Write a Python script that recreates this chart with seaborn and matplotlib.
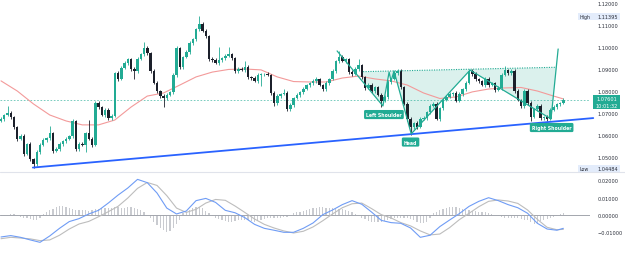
import numpy as np
import pandas as pd
import matplotlib
matplotlib.use("Agg")
import matplotlib.pyplot as plt
import matplotlib.transforms as mtransforms
from matplotlib.patches import Rectangle, Polygon
from matplotlib.lines import Line2D
from matplotlib.ticker import FuncFormatter
import seaborn as sns

# ---------------- data ----------------
first_open = 1.0664
closes = [
    1.0673, 1.0691, 1.0700, 1.0682, 1.0636, 1.0582, 1.0595, 1.0514, 1.0559, 1.0491,
    1.0468, 1.0523, 1.0555, 1.0577, 1.0586, 1.0609, 1.0527, 1.0536, 1.0559, 1.0573,
    1.0582, 1.0595, 1.0664, 1.0536, 1.0559, 1.0555, 1.0609, 1.0582, 1.0555, 1.0745,
    1.0727, 1.0691, 1.0714, 1.0677, 1.0686, 1.0882, 1.0855, 1.0905, 1.0927, 1.0945,
    1.0900, 1.0891, 1.0945, 1.0968, 1.0995, 1.0973, 1.0891, 1.0836, 1.0800, 1.0777,
    1.0768, 1.0782, 1.0795, 1.0873, 1.0995, 1.0909, 1.0955, 1.0977, 1.1018, 1.1036,
    1.1082, 1.1105, 1.1073, 1.1050, 1.0945, 1.0941, 1.0927, 1.0941, 1.0950, 1.0959,
    1.0968, 1.0950, 1.0891, 1.0900, 1.0895, 1.0909, 1.0864, 1.0859, 1.0845, 1.0873,
    1.0877, 1.0877, 1.0873, 1.0791, 1.0745, 1.0777, 1.0786, 1.0791, 1.0718, 1.0736,
    1.0768, 1.0782, 1.0795, 1.0809, 1.0827, 1.0836, 1.0845, 1.0855, 1.0827, 1.0809,
    1.0836, 1.0855, 1.0891, 1.0936, 1.0955, 1.0936, 1.0945, 1.0886, 1.0877, 1.0900,
    1.0918, 1.0864, 1.0814, 1.0827, 1.0800, 1.0818, 1.0782, 1.0755, 1.0773, 1.0841,
    1.0855, 1.0882, 1.0891, 1.0818, 1.0741, 1.0673, 1.0636, 1.0655, 1.0636, 1.0673,
    1.0677, 1.0705, 1.0732, 1.0741, 1.0673, 1.0723, 1.0759, 1.0773, 1.0786, 1.0791,
    1.0755, 1.0786, 1.0809, 1.0836, 1.0891, 1.0877, 1.0855, 1.0845, 1.0827, 1.0855,
    1.0827, 1.0836, 1.0805, 1.0814, 1.0873, 1.0895, 1.0882, 1.0891, 1.0800, 1.0759,
    1.0732, 1.0800, 1.0745, 1.0682, 1.0718, 1.0732, 1.0677, 1.0682, 1.0673, 1.0714,
    1.0727, 1.0741, 1.0745, 1.07601,
]
upper_wick_pips = [
    8, 6, 32, 7, 5, 6, 9, 8, 6, 7,
    5, 8, 7, 9, 6, 32, 6, 8, 7, 6,
    9, 7, 9, 6, 8, 7, 6, 59, 7, 10,
    8, 6, 9, 7, 8, 5, 7, 9, 8, 6,
    7, 8, 9, 6, 27, 8, 6, 7, 9, 6,
    8, 7, 6, 9, 8, 7, 6, 8, 9, 7,
    6, 35, 8, 7, 6, 9, 7, 59, 6, 8,
    32, 7, 6, 9, 8, 27, 7, 6, 8, 9,
    6, 7, 8, 6, 7, 9, 6, 18, 7, 8,
    6, 9, 7, 8, 6, 7, 9, 8, 6, 7,
    8, 6, 9, 7, 27, 8, 7, 6, 9, 8,
    27, 7, 6, 8, 9, 7, 6, 8, 7, 9,
    6, 8, 7, 9, 6, 7, 8, 6, 9, 7,
    8, 6, 7, 9, 8, 6, 7, 8, 9, 6,
    7, 8, 6, 9, 9, 7, 8, 6, 7, 9,
    8, 6, 7, 9, 8, 18, 6, 7, 8, 9,
    6, 7, 8, 9, 6, 7, 8, 6, 9, 7,
    8, 6, 7, 6,
]
lower_wick_pips = [
    7, 8, 6, 9, 7, 8, 6, 9, 7, 8,
    20, 7, 8, 6, 9, 7, 8, 6, 7, 9,
    8, 6, 7, 9, 8, 7, 32, 6, 8, 7,
    9, 6, 8, 7, 9, 6, 8, 7, 6, 9,
    7, 36, 8, 6, 7, 9, 8, 6, 7, 8,
    41, 7, 6, 8, 9, 7, 8, 6, 7, 9,
    8, 7, 6, 9, 7, 8, 6, 7, 9, 8,
    6, 7, 9, 8, 6, 7, 8, 9, 6, 7,
    50, 8, 6, 7, 14, 8, 9, 6, 7, 8,
    9, 6, 7, 8, 6, 9, 7, 8, 6, 7,
    8, 9, 6, 7, 8, 6, 9, 7, 8, 6,
    7, 8, 9, 6, 7, 8, 6, 27, 7, 8,
    9, 6, 7, 8, 6, 9, 35, 7, 8, 6,
    7, 9, 8, 6, 7, 8, 9, 6, 7, 8,
    6, 7, 9, 8, 6, 7, 8, 9, 6, 7,
    8, 6, 9, 7, 8, 6, 7, 9, 8, 6,
    7, 8, 9, 18, 6, 7, 8, 9, 9, 7,
    6, 8, 7, 6,
]

ma_bar = list(range(0, 171, 5)) + [173]
ma_values = [
    1.0846, 1.0800, 1.0741, 1.0691, 1.0664, 1.0646, 1.0646, 1.0668, 1.0727, 1.0777,
    1.0791, 1.0827, 1.0864, 1.0886, 1.0898, 1.0900, 1.0896, 1.0864, 1.0843, 1.0841,
    1.0841, 1.0859, 1.0868, 1.0855, 1.0846, 1.0827, 1.0791, 1.0766, 1.0773, 1.0796,
    1.0809, 1.0814, 1.0816, 1.0800, 1.0777, 1.0764,
]

macd_bar = list(range(0, 172, 3)) + [173]
macd_line = [
    -0.0127, -0.0119, -0.0129, -0.0144, -0.0158, -0.0121, -0.0077, -0.0038, -0.0021, 0.0006,
    0.0027, 0.0069, 0.0115, 0.0156, 0.0206, 0.0187, 0.0127, 0.0040, 0.0006, 0.0023,
    0.0083, 0.0096, 0.0073, 0.0027, 0.0013, -0.0015, -0.0054, -0.0077, -0.0088, -0.0100,
    -0.0100, -0.0077, -0.0046, 0.0002, 0.0029, 0.0060, 0.0083, 0.0062, 0.0017, -0.0031,
    -0.0044, -0.0048, -0.0075, -0.0129, -0.0117, -0.0067, -0.0029, 0.0008, 0.0050, 0.0079,
    0.0100, 0.0083, 0.0060, 0.0042, 0.0010, -0.0048, -0.0081, -0.0088, -0.0077,
]
signal_line = [
    -0.0137, -0.0129, -0.0133, -0.0138, -0.0148, -0.0144, -0.0117, -0.0081, -0.0052, -0.0037,
    -0.0010, 0.0019, 0.0050, 0.0098, 0.0154, 0.0188, 0.0171, 0.0112, 0.0040, 0.0015,
    0.0033, 0.0069, 0.0090, 0.0085, 0.0052, 0.0015, -0.0023, -0.0054, -0.0075, -0.0092,
    -0.0104, -0.0094, -0.0069, -0.0033, 0.0006, 0.0042, 0.0065, 0.0069, 0.0037, 0.0002,
    -0.0017, -0.0044, -0.0063, -0.0092, -0.0115, -0.0110, -0.0073, -0.0027, 0.0010, 0.0048,
    0.0079, 0.0087, 0.0081, 0.0067, 0.0029, -0.0025, -0.0071, -0.0085, -0.0083,
]
macd_hist = [
    -0.0006, -0.0006, -0.0004, 0.0006, 0.0006, -0.0004, -0.0010, -0.0015, -0.0019, -0.0023,
    -0.0027, -0.0029, -0.0015, 0.0004, 0.0019, 0.0027, 0.0035, 0.0046, 0.0054, 0.0050,
    0.0044, 0.0038, 0.0033, 0.0029, 0.0029, 0.0029, 0.0027, 0.0023, 0.0027, 0.0033,
    0.0035, 0.0038, 0.0038, 0.0040, 0.0042, 0.0046, 0.0048, 0.0042, 0.0038, 0.0044,
    0.0048, 0.0042, 0.0035, 0.0027, 0.0019, 0.0000, -0.0019, -0.0038, -0.0058, -0.0073,
    -0.0087, -0.0096, -0.0092, -0.0077, -0.0054, -0.0029, 0.0010, 0.0019, 0.0029, 0.0038,
    0.0048, 0.0044, 0.0038, 0.0023, 0.0010, -0.0006, -0.0015, -0.0025, -0.0031, -0.0035,
    -0.0038, -0.0038, -0.0037, -0.0031, -0.0029, -0.0029, -0.0031, -0.0035, -0.0038, -0.0035,
    -0.0029, -0.0023, -0.0019, -0.0019, -0.0019, -0.0017, -0.0015, -0.0012, -0.0010, -0.0002,
    0.0010, 0.0015, 0.0019, 0.0023, 0.0029, 0.0033, 0.0038, 0.0042, 0.0048, 0.0046,
    0.0042, 0.0040, 0.0038, 0.0037, 0.0035, 0.0033, 0.0029, 0.0023, 0.0015, 0.0006,
    -0.0006, -0.0015, -0.0025, -0.0033, -0.0038, -0.0040, -0.0042, -0.0040, -0.0035, -0.0027,
    -0.0021, -0.0017, -0.0015, -0.0015, -0.0017, -0.0019, -0.0023, -0.0029, -0.0038, -0.0048,
    -0.0044, -0.0038, -0.0015, 0.0010, 0.0019, 0.0029, 0.0035, 0.0042, 0.0046, 0.0048,
    0.0046, 0.0038, 0.0033, 0.0029, 0.0027, 0.0023, 0.0021, 0.0019, 0.0017, 0.0015,
    0.0012, 0.0006, 0.0002, -0.0006, -0.0012, -0.0015, -0.0015, -0.0015, -0.0017, -0.0019,
    -0.0023, -0.0027, -0.0031, -0.0042, -0.0054, -0.0046, -0.0037, -0.0029, -0.0023, -0.0015,
    -0.0010, -0.0004, 0.0004, 0.0010,
]

# pattern drawing (bar position, price)
pattern_bar = [103.4, 117.5, 119.4, 120.0, 120.9, 126.2, 144.3, 169.2, 171.4]
pattern_price = [1.0982, 1.0732, 1.0886, 1.0845, 1.0891, 1.0605, 1.0895, 1.0673, 1.0991]
neck_bar = [111.4, 171.1]
neck_price = [1.0888, 1.0908]
trend_bar = [9.8, 182.2]
trend_price = [1.0452, 1.0677]
labels = ["Left Shoulder", "Head", "Right Shoulder"]
label_bar = [117.8, 126.0, 169.4]
label_price = [1.0693, 1.0568, 1.0634]

price_ticks = [1.12, 1.11, 1.10, 1.09, 1.08, 1.07, 1.06, 1.05]
macd_ticks = [0.02, 0.01, 0.0, -0.01]
high_value = 1.11395
low_value = 1.04484
last_price = 1.07601
countdown = "10:01:32"

# ---------------- styling ----------------
sns.set_style("white")
plt.rcParams["font.family"] = ["DejaVu Sans"]

GREEN = "#22ab94"
DARK = "#1c202b"
RED_MA = "#f39a9a"
BLUE = "#2962ff"
TXT = "#2a2e39"

W, H = 625, 255
PLOT_RIGHT = 590
fig = plt.figure(figsize=(W / 100, H / 100), dpi=100)
fig.patch.set_facecolor("white")

ax = fig.add_axes([0, 1 - 172 / H, PLOT_RIGHT / W, 172 / H])
axm = fig.add_axes([0, 0, PLOT_RIGHT / W, 82 / H])

for a in (ax, axm):
    for s in a.spines.values():
        s.set_visible(False)
    a.set_xticks([])
    a.set_xlim(-0.31, 181.2)
    a.set_facecolor("none")

# ---------------- candles ----------------
c = np.array(closes)
o = np.array([first_open] + closes[:-1])
n = len(c)
bars = np.arange(n)
hi = np.maximum(o, c) + np.array(upper_wick_pips) * 1e-4
lo = np.minimum(o, c) - np.array(lower_wick_pips) * 1e-4
col = np.where(c >= o, GREEN, DARK)
ax.vlines(bars, lo, hi, colors=col, lw=0.6, zorder=3)
ax.bar(bars, np.maximum(np.abs(c - o), 0.00025), bottom=np.minimum(o, c),
       width=0.76, color=col, linewidth=0, zorder=4)

# moving average
df_ma = pd.DataFrame({"bar": ma_bar, "ma": ma_values})
sns.lineplot(data=df_ma, x="bar", y="ma", ax=ax, color=RED_MA, lw=0.8, zorder=2)

# last price dashed line
ax.axhline(last_price, color=GREEN, lw=0.6, ls=(0, (2, 2)), alpha=0.7, zorder=1)

# trend line
ax.plot(trend_bar, trend_price, color=BLUE, lw=1.3, clip_on=False, zorder=5,
        solid_capstyle="round")

# inverse head & shoulders pattern
pb = np.array(pattern_bar)
pp = np.array(pattern_price)
x_left = neck_bar[0]
y_left_pat = np.interp(x_left, pb[:2], pp[:2])
nslope = (neck_price[1] - neck_price[0]) / (neck_bar[1] - neck_bar[0])
t = np.linspace(0, 1, 200)
seg_x = pb[-2] + t * (pb[-1] - pb[-2])
seg_y = pp[-2] + t * (pp[-1] - pp[-2])
neck_y_at = neck_price[0] + nslope * (seg_x - neck_bar[0])
k = np.argmin(np.abs(seg_y - neck_y_at))
x_right, y_right = seg_x[k], seg_y[k]
poly = [(x_left, neck_price[0]), (x_right, y_right)]
for i in range(len(pb) - 2, 0, -1):
    poly.append((pb[i], pp[i]))
poly.append((x_left, y_left_pat))
ax.add_patch(Polygon(poly, closed=True, fc=GREEN, alpha=0.16, ec="none", zorder=1))
ax.plot([neck_bar[0], x_right], [neck_price[0], y_right], color=GREEN, lw=0.8,
        ls=(0, (1, 1.2)), zorder=5)
ax.plot(pb, pp, color=GREEN, lw=0.9, zorder=6)
for txt, xb, yp in zip(labels, label_bar, label_price):
    ax.text(xb, yp, txt, ha="center", va="center", fontsize=3.3, color="white",
            fontweight="semibold", zorder=8,
            bbox=dict(boxstyle="round,pad=0.45,rounding_size=0.3", fc=GREEN, ec="none"))

# price axis
ax.set_ylim(1.12182 - 172 / 2200, 1.12182)
ax.set_yticks(price_ticks)
ax.yaxis.tick_right()
ax.yaxis.set_major_formatter(FuncFormatter(lambda v, p: f"{v:.5f}"))
ax.tick_params(axis="y", length=0, pad=5.2, labelsize=3.6, labelcolor=TXT)
ax.set_xlabel("")
ax.set_ylabel("")

bt = mtransforms.blended_transform_factory(ax.transAxes, ax.transData)
pxh = 1 / 2200.0
for label, val in (("High", high_value), ("Low", low_value)):
    ax.add_patch(Rectangle((578 / PLOT_RIGHT, val - 3.2 * pxh), 42 / PLOT_RIGHT, 6.4 * pxh,
                           transform=bt, fc="#e3ecfb", ec="none", clip_on=False, zorder=9))
    ax.text(580 / PLOT_RIGHT, val, label, transform=bt, ha="left", va="center",
            fontsize=3.4, color=TXT, clip_on=False, zorder=10)
    ax.text(597 / PLOT_RIGHT, val, f"{val:.5f}", transform=bt, ha="left", va="center",
            fontsize=3.6, color=TXT, clip_on=False, zorder=10)

ax.add_patch(Rectangle((593 / PLOT_RIGHT, last_price - 9.5 * pxh), 27 / PLOT_RIGHT, 14 * pxh,
                       transform=bt, fc=GREEN, ec="none", clip_on=False, zorder=9))
ax.text(606.5 / PLOT_RIGHT, last_price + 1.0 * pxh, f"{last_price:.5f}", transform=bt,
        ha="center", va="center", fontsize=3.6, color="white", clip_on=False, zorder=10)
ax.text(606.5 / PLOT_RIGHT, last_price - 5.5 * pxh, countdown, transform=bt,
        ha="center", va="center", fontsize=3.6, color="white", clip_on=False, zorder=10)

# ---------------- MACD panel ----------------
axm.bar(bars, macd_hist, width=0.36, color="#c9cbd0", linewidth=0, zorder=1)
axm.axhline(0, color="#a3a6ad", lw=0.7, zorder=2)
df_macd = pd.DataFrame({"bar": macd_bar, "macd": macd_line, "signal": signal_line})
sns.lineplot(data=df_macd, x="bar", y="signal", ax=axm, color="#bdbdbd", lw=0.8, zorder=3)
sns.lineplot(data=df_macd, x="bar", y="macd", ax=axm, color="#6f9cf5", lw=0.8, zorder=4)
axm.set_ylim(-0.02254, 0.02486)
axm.set_yticks(macd_ticks)
axm.yaxis.tick_right()
axm.yaxis.set_major_formatter(FuncFormatter(lambda v, p: f"{v:.5f}".replace("-", "\u2212")))
axm.tick_params(axis="y", length=0, pad=5.2, labelsize=3.6, labelcolor=TXT)
axm.set_xlabel("")
axm.set_ylabel("")
axm.set_xticks([])
axm.set_xlim(-0.31, 181.2)

# separator between panels
fig.add_artist(Line2D([0, 1], [1 - 172.5 / H] * 2, transform=fig.transFigure,
                      color="#e0e3eb", lw=0.8))

fig.savefig("out.png", dpi=100, facecolor="white")
